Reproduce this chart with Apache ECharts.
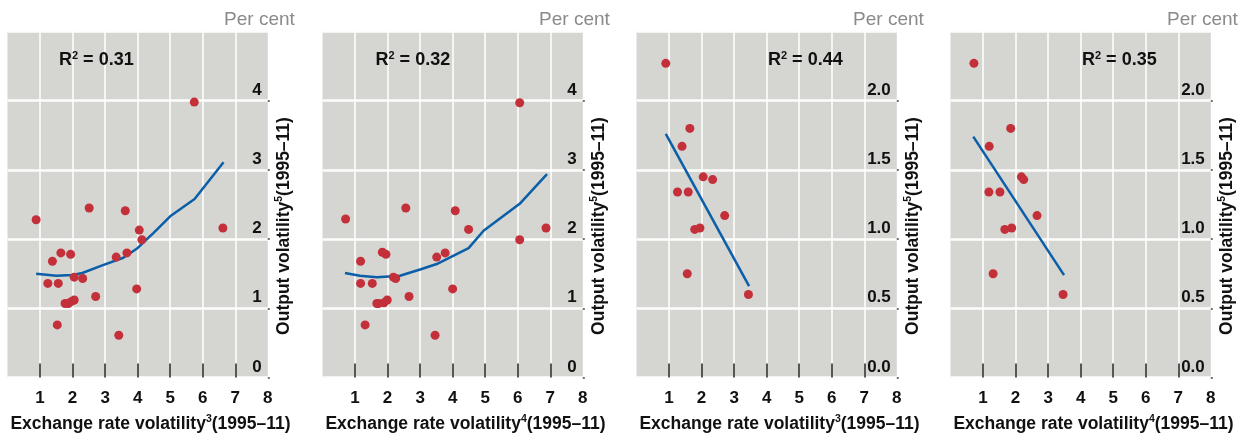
<!DOCTYPE html>
<html>
<head>
<meta charset="utf-8">
<script src="https://cdn.jsdelivr.net/npm/echarts@6/dist/echarts.min.js"></script>
<style>
html,body{margin:0;padding:0;background:#fff;}
#c{width:1249px;height:436px;}
</style>
</head>
<body>
<div id="c"></div>
<script>
// ---- data ----
const xTickValues = [1, 2, 3, 4, 5, 6, 7];
const xLabelValues = [1, 2, 3, 4, 5, 6, 7, 8];
const rSquared = ['0.31', '0.32', '0.44', '0.35'];
const xSup = ['3', '4', '3', '4'];
const yMaxes = [5, 5, 2.5, 2.5];
const yIntervals = [1, 1, 0.5, 0.5];
const yDecimals = [0, 0, 1, 1];

const p1Points = [[0.88,2.28],[2.51,2.45],[3.62,2.41],[5.74,3.98],[4.05,2.13],[4.13,1.99],[6.62,2.16],
  [1.38,1.68],[1.64,1.80],[1.94,1.78],[3.34,1.74],[3.67,1.80],[1.24,1.36],[1.56,1.36],[2.05,1.45],
  [2.31,1.43],[3.97,1.28],[2.71,1.17],[1.77,1.07],[1.87,1.07],[1.97,1.10],[2.05,1.12],[1.53,0.76],[3.42,0.61]];
const p1Fit = [[0.88,1.50],[1.5,1.47],[2.0,1.48],[2.3,1.51],[2.85,1.61],[3.56,1.73],[3.97,1.86],
  [4.49,2.09],[5.0,2.33],[5.75,2.58],[6.64,3.11]];

const p2Points = [[0.71,2.29],[2.56,2.45],[4.08,2.41],[6.06,3.97],[4.49,2.14],[6.06,1.99],[6.87,2.16],
  [1.17,1.68],[1.84,1.81],[1.95,1.78],[3.51,1.74],[3.77,1.80],[1.17,1.36],[1.53,1.36],[2.18,1.45],
  [2.25,1.43],[4.0,1.28],[2.66,1.17],[1.67,1.07],[1.72,1.07],[1.89,1.08],[1.99,1.12],[1.31,0.76],[3.46,0.61]];
const p2Fit = [[0.69,1.51],[1.15,1.47],[1.67,1.45],[2.38,1.47],[3.0,1.56],[3.51,1.64],[4.49,1.87],
  [4.95,2.12],[6.06,2.51],[6.9,2.94]];

const p3Points = [[0.90,2.27],[1.64,1.80],[1.40,1.67],[2.05,1.45],[2.34,1.43],[1.26,1.34],[1.59,1.34],
  [2.71,1.17],[1.79,1.07],[1.95,1.08],[1.56,0.75],[3.44,0.60]];
const p3Fit = [[0.90,1.76],[3.46,0.66]];

const p4Points = [[0.72,2.27],[1.85,1.80],[1.19,1.67],[2.18,1.45],[2.25,1.43],[1.18,1.34],[1.52,1.34],
  [2.66,1.17],[1.67,1.07],[1.88,1.08],[1.31,0.75],[3.46,0.60]];
const p4Fit = [[0.70,1.74],[3.49,0.74]];

const pointSets = [p1Points, p2Points, p3Points, p4Points];
const fitSets = [p1Fit, p2Fit, p3Fit, p4Fit];

// ---- layout ----
const gridLefts = [7.5, 322.5, 636.5, 950.5];
const gridW = 260.3;
const gridTop = 31.5;
const gridH = 346;
const rLeftOff = [51.5, 53, 131.5, 131.5];

const FONT = '"Liberation Sans", Arial, Helvetica, sans-serif';
const RED = '#c4303a';
const BLUE = '#0b5ea8';
const BG = '#d5d5d1';
const GRIDLINE = '#fdfdfc';

const grids = [], xAxes = [], yAxes = [], series = [], graphics = [];
for (let i = 0; i < 4; i++) {
  grids.push({left: gridLefts[i], top: gridTop, width: gridW, height: gridH, z: 0,
    show: true, backgroundColor: BG, borderWidth: 0});
  xAxes.push({
    type: 'value', gridIndex: i, min: 0, max: 8, interval: 1, z: 1,
    axisLine: {show: false, onZero: false},
    axisTick: {show: true, inside: true, length: 14, customValues: xTickValues,
      lineStyle: {color: '#222', width: 1.5}},
    axisLabel: {customValues: xLabelValues, margin: 12, color: '#111',
      fontFamily: FONT, fontWeight: 'bold', fontSize: 17},
    splitLine: {show: true, lineStyle: {color: '#ffffff', width: 1.5}}
  });
  yAxes.push({
    type: 'value', gridIndex: i, position: 'right', min: 0, max: yMaxes[i], interval: yIntervals[i], z: 1,
    axisLine: {show: false, onZero: false},
    axisTick: {show: true, length: 2, lineStyle: {color: '#444', width: 1.5}},
    axisLabel: {inside: true, margin: 6, showMaxLabel: false, verticalAlign: 'bottom',
      padding: [0, 0, 2, 0], color: '#111', fontFamily: FONT, fontWeight: 'bold', fontSize: 17,
      formatter: (v) => v.toFixed(yDecimals[i])},
    splitLine: {show: true, lineStyle: {color: GRIDLINE, width: 2.5, opacity: 1}}
  });
  series.push({
    type: 'line', xAxisIndex: i, yAxisIndex: i, data: fitSets[i],
    showSymbol: false, symbol: 'none', lineStyle: {color: BLUE, width: 2.5}, silent: true, z: 10
  });
  series.push({
    type: 'scatter', xAxisIndex: i, yAxisIndex: i, data: pointSets[i],
    symbolSize: 9, itemStyle: {color: RED, opacity: 1}, silent: true, z: 11
  });
  const right = gridLefts[i] + gridW;
  graphics.push({
    type: 'text', x: right + 27, y: 20, z: 100, silent: true,
    style: {text: 'Per cent', fill: '#8a8a8a', font: '19px ' + FONT, align: 'right', verticalAlign: 'middle'}
  });
  graphics.push({
    type: 'text', x: gridLefts[i] + rLeftOff[i], y: 60, z: 100, silent: true,
    style: {
      text: '{a|R}{s|2}{a| = ' + rSquared[i] + '}',
      verticalAlign: 'middle',
      rich: {
        a: {fontFamily: FONT, fontWeight: 'bold', fontSize: 18, fill: '#111', lineHeight: 20},
        s: {fontFamily: FONT, fontWeight: 'bold', fontSize: 11, fill: '#111', verticalAlign: 'top', lineHeight: 20, padding: [0, 0, 10, 0]}
      }
    }
  });
  graphics.push({
    type: 'text', x: gridLefts[i] + 143, y: 424, z: 100, silent: true,
    style: {
      text: '{a|Exchange rate volatility}{s|' + xSup[i] + '}{a|(1995–11)}',
      align: 'center', verticalAlign: 'middle',
      rich: {
        a: {fontFamily: FONT, fontWeight: 'bold', fontSize: 17.5, fill: '#111', lineHeight: 20},
        s: {fontFamily: FONT, fontWeight: 'bold', fontSize: 10.5, fill: '#111', verticalAlign: 'top', lineHeight: 20, padding: [0, 0, 10, 0]}
      }
    }
  });
  graphics.push({
    type: 'text', x: right + 16, y: 226, rotation: Math.PI / 2, z: 100, silent: true,
    style: {
      text: '{a|Output volatility}{s|5}{a|(1995–11)}',
      align: 'center', verticalAlign: 'middle',
      rich: {
        a: {fontFamily: FONT, fontWeight: 'bold', fontSize: 17.5, fill: '#111', lineHeight: 20},
        s: {fontFamily: FONT, fontWeight: 'bold', fontSize: 10.5, fill: '#111', verticalAlign: 'top', lineHeight: 20, padding: [0, 0, 10, 0]}
      }
    }
  });
}

const chart = echarts.init(document.getElementById('c'), null, {renderer: 'canvas'});
chart.setOption({
  animation: false,
  backgroundColor: '#ffffff',
  grid: grids, xAxis: xAxes, yAxis: yAxes, series: series,
  graphic: graphics
});
</script>
</body>
</html>
